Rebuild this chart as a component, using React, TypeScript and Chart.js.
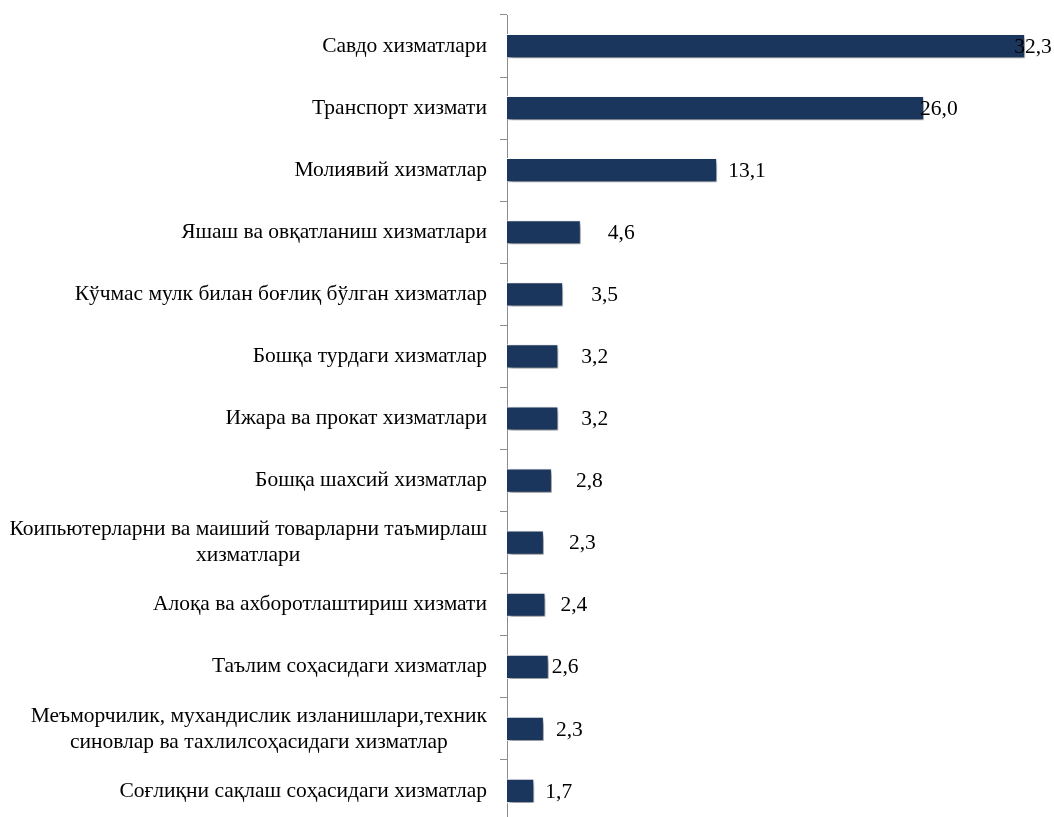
import React, { useEffect, useRef } from "react";
import { Chart, registerables } from "chart.js";

Chart.register(...registerables);

const categories: (string | string[])[] = [
  "Савдо хизматлари",
  "Транспорт хизмати",
  "Молиявий хизматлар",
  "Яшаш ва овқатланиш хизматлари",
  "Кўчмас мулк билан боғлиқ бўлган хизматлар",
  "Бошқа турдаги хизматлар",
  "Ижара ва прокат хизматлари",
  "Бошқа шахсий хизматлар",
  ["Коипьютерларни ва маиший товарларни таъмирлаш", "хизматлари"],
  "Алоқа ва ахборотлаштириш хизмати",
  "Таълим соҳасидаги хизматлар",
  ["Меъморчилик, мухандислик изланишлари,техник", "синовлар ва тахлилсоҳасидаги хизматлар"],
  "Соғлиқни сақлаш соҳасидаги хизматлар",
];

const values: number[] = [32.3, 26.0, 13.1, 4.6, 3.5, 3.2, 3.2, 2.8, 2.3, 2.4, 2.6, 2.3, 1.7];

// horizontal nudge (px) of each value label from its bar end, as placed in the original
const labelNudge: number[] = [-11, -4, 11, 27, 28, 23, 23, 24, 25, 15, 3, 12, 11];

const FONT = '21.5px "Liberation Serif", "Times New Roman", serif';
const BAR_COLOR = "#1b365d";
const AXIS_COLOR = "#8c8c8c";

export default function App() {
  const ref = useRef<HTMLCanvasElement | null>(null);

  useEffect(() => {
    if (!ref.current) return;

    const shadowPlugin = {
      id: "barShadow",
      beforeDatasetsDraw(chart: any) {
        const ctx = chart.ctx;
        ctx.save();
        ctx.shadowColor = "rgba(0,0,0,0.5)";
        ctx.shadowBlur = 5;
        ctx.shadowOffsetX = 2;
        ctx.shadowOffsetY = 3;
      },
      afterDatasetsDraw(chart: any) {
        chart.ctx.restore();
      },
    };

    const labelsPlugin = {
      id: "customLabels",
      afterDraw(chart: any) {
        const ctx = chart.ctx;
        const y = chart.scales.y;
        const x = chart.scales.x;
        ctx.save();
        ctx.font = FONT;
        ctx.fillStyle = "#000";
        ctx.textBaseline = "middle";
        const right = y.right - 7 - 13;
        const lineH = 26;
        categories.forEach((lbl, i) => {
          const lines = Array.isArray(lbl) ? lbl : [lbl];
          const py = y.getPixelForValue(i);
          const bw = Math.max(...lines.map((l) => ctx.measureText(l).width));
          const cx = right - bw / 2;
          ctx.textAlign = "center";
          lines.forEach((l, k) => {
            ctx.fillText(l, cx, py + (k - (lines.length - 1) / 2) * lineH);
          });
        });
        values.forEach((v, i) => {
          const px = x.getPixelForValue(v);
          const py = y.getPixelForValue(i);
          ctx.textAlign = "left";
          ctx.fillText(v.toFixed(1).replace(".", ","), px + labelNudge[i], py + 1);
        });
        ctx.restore();
      },
    };

    const chart = new Chart(ref.current, {
      type: "bar",
      data: {
        labels: categories.map((c) => (Array.isArray(c) ? c.join(" ") : c)),
        datasets: [
          {
            data: values,
            backgroundColor: BAR_COLOR,
            borderColor: "#ffffff",
            borderWidth: 1,
            barPercentage: 0.39,
            categoryPercentage: 1,
          },
        ],
      },
      options: {
        indexAxis: "y",
        responsive: false,
        animation: false,
        layout: { padding: { top: 15, left: 0, right: 0, bottom: 0 } },
        plugins: {
          legend: { display: false },
          tooltip: { enabled: false },
        },
        scales: {
          x: {
            display: false,
            min: 0,
            max: 34.1,
          },
          y: {
            offset: true,
            afterFit(scale: any) {
              scale.width = 507;
            },
            grid: {
              offset: true,
              drawOnChartArea: false,
              drawTicks: true,
              tickLength: 7,
              color: AXIS_COLOR,
            },
            border: { color: AXIS_COLOR, width: 1 },
            ticks: { display: false },
          },
        },
      },
      plugins: [shadowPlugin, labelsPlugin],
    });

    return () => chart.destroy();
  }, []);

  return (
    <div style={{ position: "absolute", left: 0, top: 0, width: 1054, height: 822, background: "#fff" }}>
      <canvas ref={ref} width={1054} height={822} />
    </div>
  );
}
